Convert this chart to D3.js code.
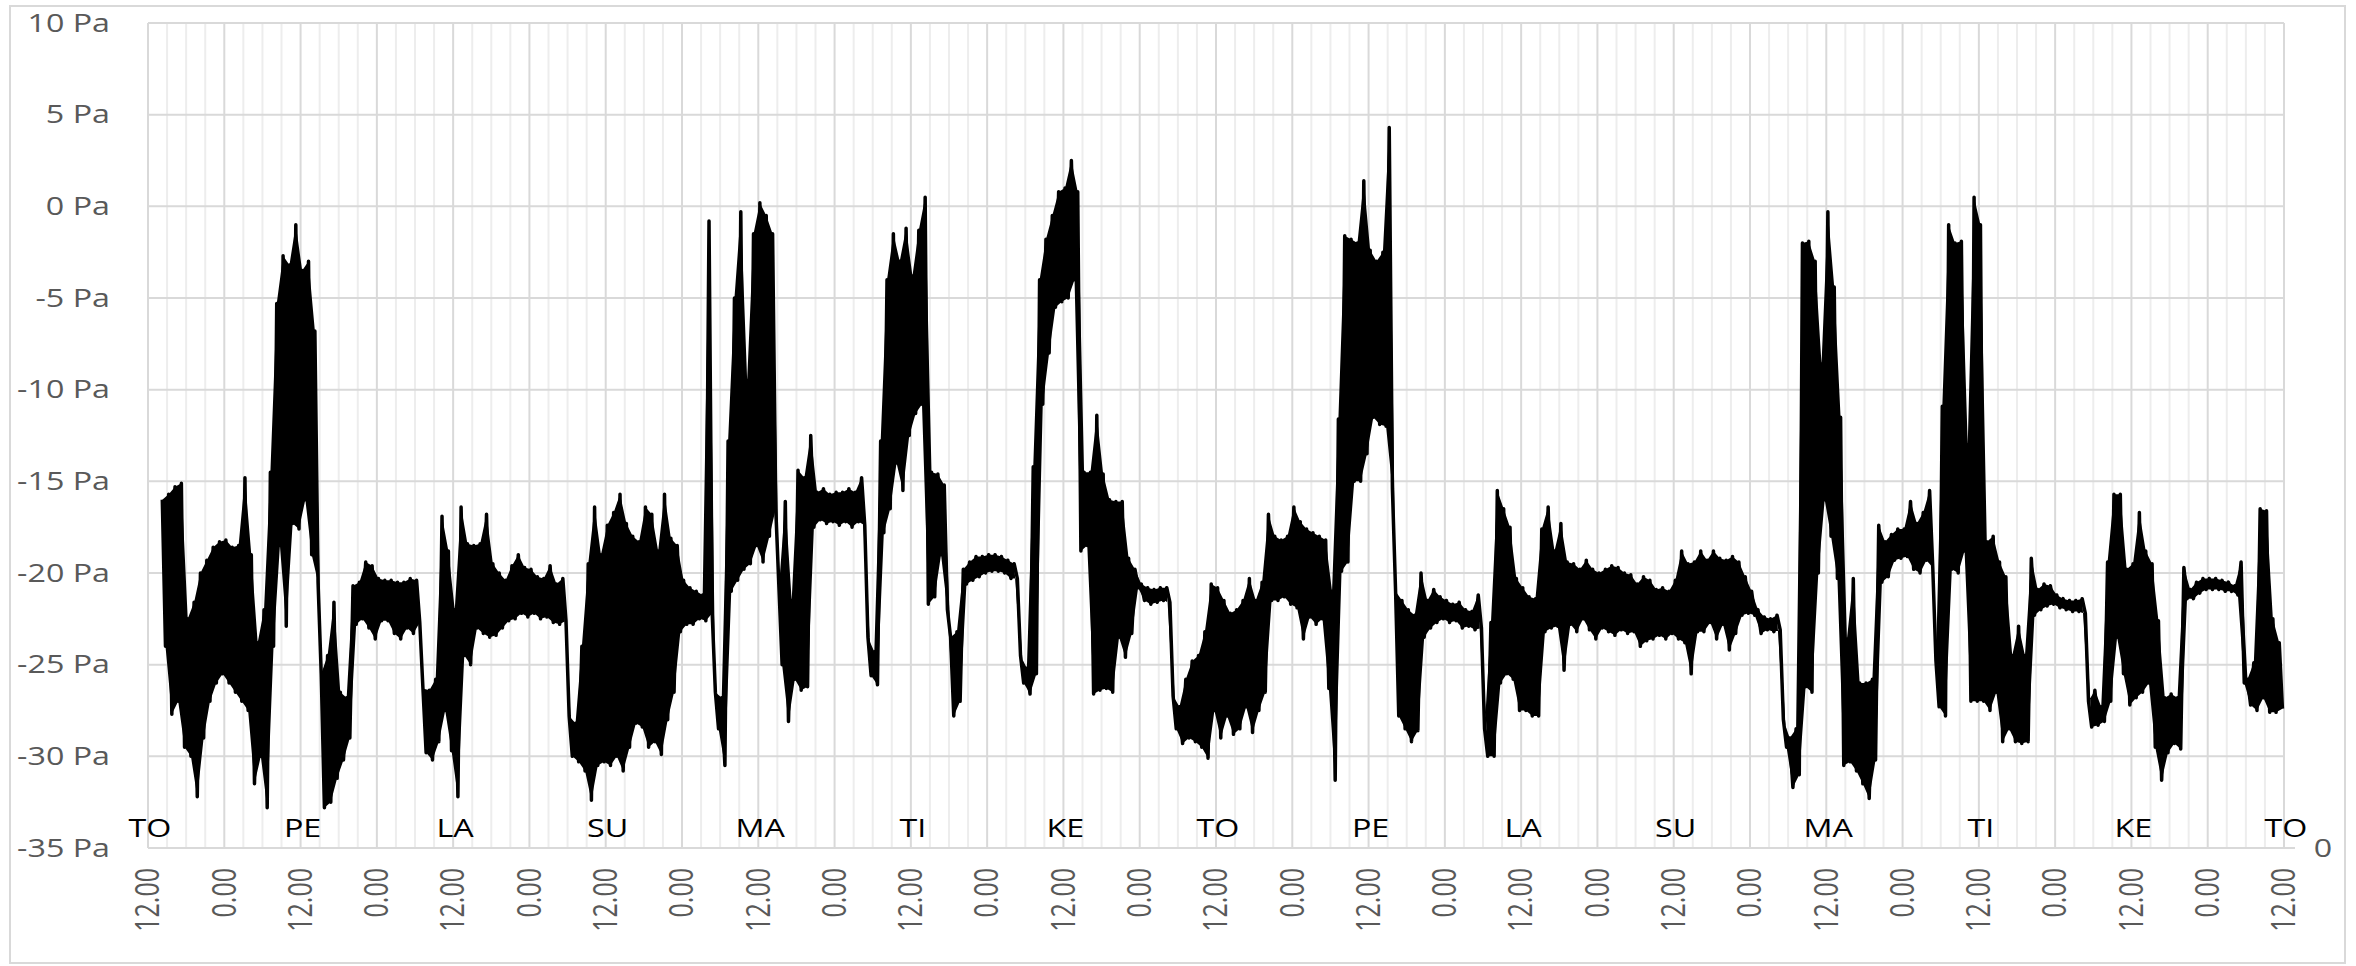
<!DOCTYPE html>
<html>
<head>
<meta charset="utf-8">
<script src="https://cdn.jsdelivr.net/npm/d3@7"></script>
<style>
  html, body { margin: 0; padding: 0; background: #fff; }
  svg { display: block; }
  text { font-family: "Open Sans", "Noto Sans", sans-serif; }
</style>
</head>
<body>
<svg id="chart" width="2356" height="966"></svg>
<script>
// Pressure difference, hourly envelope (highest / lowest reading within each hour).
// Hour 0 = Thursday 12.00, two weeks of data.
const hourHigh = [
  null, null, -16, -15.7, -15.3, -15.1, -22.5, -21.6, -20, -19.3, -18.6, -18.3,
  -18.2, -18.6, -18.5, -14.8, -19, -23.8, -22, -14.5, -5.3, -2.7, -3.2, -1,
  -3.5, -3, -6.8, -25.5, -24.5, -21.6, -26.5, -26.8, -20.7, -20.5, -19.4, -19.6,
  -20.3, -20.4, -20.4, -20.5, -20.5, -20.3, -20.4, -26.3, -26.4, -25.8, -16.9, -18.8,
  -22, -16.4, -18.4, -18.5, -18.4, -16.8, -19.5, -20, -20.4, -19.6, -19, -19.7,
  -19.8, -20.2, -20.3, -19.6, -20.6, -20.3, -27.8, -28.2, -24, -19.5, -16.4, -19,
  -17.4, -16.7, -15.7, -17.3, -18, -18.3, -16.4, -16.8, -18.8, -15.7, -18.1, -18.5,
  -20.4, -20.8, -21, -21.2, -0.8, -26.5, -26.8, -12.8, -5, -0.3, -9.5, -1.5,
  0.2, -0.5, -1.5, -20.8, -16.1, -21.5, -14.4, -14.8, -12.5, -15.6, -15.4, -15.7,
  -15.6, -15.6, -15.4, -15.6, -14.8, -23.5, -24.3, -12.8, -4, -1.5, -3, -1.2,
  -3.8, -1.3, 0.5, -14.5, -14.6, -15.2, -23.5, -23.2, -19.8, -19.4, -19.1, -19.1,
  -19, -19, -19.1, -19.3, -19.5, -24.5, -25.2, -14.2, -4, -1.8, -0.5, 0.8,
  1, 2.5, 0.8, -14.5, -14.5, -11.4, -14.6, -16, -16.1, -16.1, -19.2, -19.8,
  -20.6, -20.8, -20.9, -20.8, -20.8, -26.7, -27.3, -25.8, -24.8, -24.5, -23.2, -20.6,
  -20.8, -21.5, -22.2, -22, -21.5, -20.3, -21.5, -20.5, -16.8, -18, -18.2, -18,
  -16.4, -17.2, -17.6, -17.8, -18, -18.2, -21, -11.6, -1.6, -1.8, -2, 1.4,
  -2.4, -3, -2.5, 4.3, -21, -21.5, -22, -22.3, -20, -21.5, -20.9, -21.3,
  -21.5, -21.7, -21.6, -22, -22.1, -21.2, -28.5, -22.7, -15.5, -16.5, -17.5, -20.3,
  -20.8, -21.3, -21.4, -17.6, -16.4, -18.8, -17.3, -19.4, -19.5, -19.8, -19.3, -19.8,
  -20, -19.8, -19.6, -19.7, -20, -20.1, -20.6, -20.2, -20.4, -20.9, -20.8, -21,
  -20.4, -18.8, -19.5, -19.4, -18.8, -19.3, -18.8, -19.2, -19.3, -19.1, -19.4, -20.2,
  -21, -22, -22.4, -22.5, -22.3, -28, -29, -28.5, -2, -1.9, -3, -8.6,
  -0.3, -4.4, -11.5, -23.6, -20.3, -26, -26, -25.8, -17.4, -18.3, -17.9, -17.6,
  -17.6, -16.1, -17.3, -16.7, -15.5, -24.8, -10.9, -1, -2, -1.9, -13, 0.5,
  -1, -18.3, -18, -19.4, -20.2, -24.5, -22.9, -24.5, -19.2, -20.9, -20.6, -20.7,
  -21.2, -21.4, -21.5, -21.5, -21.4, -27, -26.4, -27.3, -19.4, -15.7, -15.7, -19.8,
  -19.5, -16.7, -18.8, -19.5, -22.6, -26.8, -26.6, -26.8, -19.7, -20.9, -20.5, -20.3,
  -20.3, -20.3, -20.4, -20.5, -20.7, -19.4, -25.8, -24.9, -16.5, -16.6, -22.5, -23.8
];
const hourLow = [
  null, null, -24, -27.7, -27, -29.5, -30, -32.2, -29, -27, -26, -25.5,
  -26, -26.5, -27, -27.5, -31.5, -30, -32.8, -24, -18.5, -22.9, -17.3, -17.6,
  -16, -19, -20.5, -32.8, -32.5, -31.2, -30.2, -29, -22.8, -22.5, -23, -23.6,
  -22.6, -22.6, -23.3, -23.6, -23, -23.3, -22.7, -29.8, -30.2, -29.2, -27.5, -29.7,
  -32.2, -24.5, -25, -23, -23.3, -23.5, -23.4, -23, -22.6, -22.5, -22.2, -22.4,
  -22.2, -22.5, -22.4, -22.7, -22.8, -22.6, -30, -30.3, -30.8, -32.4, -30.5, -30.3,
  -30.5, -30, -30.8, -29.5, -28.2, -28.4, -29.5, -29.2, -29.9, -28, -26.5, -23.2,
  -22.8, -22.8, -22.5, -22.6, -22.2, -28.5, -30.5, -21, -20.4, -19.8, -19.5, -18.5,
  -19.4, -18, -16.5, -25, -28.1, -25.8, -26.4, -26.2, -17.5, -17.1, -17.3, -17.2,
  -17.4, -17.2, -17.5, -17.2, -17.4, -25.6, -26.1, -17.8, -16.5, -14, -15.5, -12.5,
  -11.3, -10.8, -21.7, -21.3, -19, -22, -27.8, -27, -20.6, -20.4, -20.2, -20,
  -19.9, -19.9, -20, -20.3, -20.3, -26, -26.6, -25.5, -10.8, -8, -5.5, -5.2,
  -5, -4, -18.8, -18.5, -26.6, -26.4, -26.3, -26.5, -23.5, -24.6, -23.3, -20.8,
  -21.5, -21.7, -21.6, -21.5, -21.6, -28.5, -29.3, -29, -29.2, -29.5, -30.1, -27.5,
  -29, -27.8, -28.8, -28.5, -27.3, -28.7, -27.5, -26.5, -21.5, -21.5, -21.3, -21.7,
  -21.9, -23.6, -22.4, -22.8, -22.5, -26.3, -31.3, -19.9, -19.4, -15, -15, -13.5,
  -11.5, -11.9, -12, -15.4, -27.8, -28.5, -29.2, -28.6, -23.5, -23, -22.7, -22.5,
  -22.7, -22.6, -23, -22.9, -23.1, -23, -30, -30, -26, -25.5, -25.8, -27.5,
  -27.5, -27.8, -27.8, -23.2, -23, -22.9, -25.3, -22.8, -23.2, -22.5, -23.1, -23.6,
  -23, -23.2, -23.4, -23.1, -23.3, -23.2, -24, -23.7, -23.6, -23.4, -23.6, -23.3,
  -23.6, -23.8, -25.5, -23.2, -23.2, -22.7, -23.6, -22.8, -24.2, -23.3, -22.3, -22.2,
  -22.3, -23.3, -23.1, -23.2, -23.1, -29.5, -31.7, -31, -26.2, -26.5, -20, -16,
  -18, -20.3, -30.5, -30.3, -30.8, -31.5, -32.3, -30.2, -20.5, -20.2, -19.3, -19.2,
  -19.1, -19.8, -20, -19.3, -19.7, -27.3, -27.8, -19.8, -20, -18.8, -27, -27,
  -27, -27.5, -26.5, -29.2, -28.5, -29.2, -29.3, -29.2, -22.3, -22, -21.8, -21.7,
  -21.9, -22, -22.1, -22.1, -22.2, -28.4, -28.3, -28.1, -27, -23.5, -25.5, -27.2,
  -26.8, -26.5, -26, -29.5, -31.3, -29.8, -29.3, -29.6, -21.4, -21.4, -21.1, -20.9,
  -20.9, -20.9, -21, -21, -21.2, -26, -27.2, -27.5, -26.8, -27.6, -27.6, -27.4
];
const dayLabels = ["TO", "PE", "LA", "SU", "MA", "TI", "KE", "TO", "PE", "LA", "SU", "MA", "TI", "KE", "TO"];
const timeLabels = ["12.00", "0.00"];
const yTicks = [10, 5, 0, -5, -10, -15, -20, -25, -30, -35];
const totalHours = 336;

const svg = d3.select("#chart");
const plot = { left: 148, right: 2284, top: 23, bottom: 848 };
const textStretch = 1.29;

const x = d3.scaleLinear().domain([0, totalHours]).range([plot.left, plot.right]);
const y = d3.scaleLinear().domain([-35, 10]).range([plot.bottom, plot.top]);

// chart frame
svg.append("rect")
  .attr("x", 10).attr("y", 6).attr("width", 2335).attr("height", 957)
  .attr("fill", "#fff").attr("stroke", "#d9d9d9").attr("stroke-width", 2);

// vertical grid: every 3 h light, every 12 h stronger
const grid = svg.append("g");
const hourTicks = d3.range(0, totalHours + 1, 3);
grid.selectAll("line.minor")
  .data(hourTicks.filter(h => h % 12 !== 0))
  .join("line")
  .attr("x1", d => x(d)).attr("x2", d => x(d))
  .attr("y1", plot.top).attr("y2", plot.bottom)
  .attr("stroke", "#ededed").attr("stroke-width", 2);
grid.selectAll("line.major")
  .data(hourTicks.filter(h => h % 12 === 0))
  .join("line")
  .attr("x1", d => x(d)).attr("x2", d => x(d))
  .attr("y1", plot.top).attr("y2", plot.bottom)
  .attr("stroke", "#d9d9d9").attr("stroke-width", 2);
// horizontal grid
grid.selectAll("line.h")
  .data(yTicks)
  .join("line")
  .attr("x1", plot.left).attr("x2", d => d === -35 ? plot.right + 11 : plot.right)
  .attr("y1", d => y(d)).attr("y2", d => y(d))
  .attr("stroke", "#d9d9d9").attr("stroke-width", 2);

// y-axis labels
svg.append("g").selectAll("text")
  .data(yTicks)
  .join("text")
  .attr("transform", d => `translate(110,${y(d)}) scale(${textStretch},1)`)
  .attr("text-anchor", "end")
  .attr("dy", "0.35em")
  .attr("font-size", 25)
  .attr("fill", "#595959")
  .text(d => `${d} Pa`);

// time-of-day labels
const halfDays = d3.range(0, totalHours + 1, 12);
svg.append("g").selectAll("text")
  .data(halfDays)
  .join("text")
  .attr("transform", d => `translate(${x(d)},868) scale(${textStretch},1) rotate(-90)`)
  .attr("text-anchor", "end")
  .attr("dy", "0.35em")
  .attr("font-size", 25)
  .attr("fill", "#595959")
  .text((d, i) => timeLabels[i % 2]);

// weekday labels at each noon
svg.append("g").selectAll("text")
  .data(dayLabels)
  .join("text")
  .attr("transform", (d, i) => `translate(${x(i * 24) + 2},837) scale(${textStretch},1)`)
  .attr("text-anchor", "middle")
  .attr("font-size", 25)
  .attr("fill", "#000")
  .text(d => d);

// secondary axis zero
svg.append("text")
  .attr("transform", `translate(2323,${plot.bottom}) scale(${textStretch},1)`)
  .attr("text-anchor", "middle")
  .attr("dy", "0.35em")
  .attr("font-size", 25)
  .attr("fill", "#595959")
  .text("0");

// series: high and low of each hour traced in turn
const points = [];
hourHigh.forEach((hi, i) => {
  if (hi === null) return;
  points.push({ t: i + 0.25, v: hi });
  points.push({ t: i + 0.75, v: hourLow[i] });
});

// the dense hourly band: highs forward, lows back
const highEdge = points.filter((d, k) => k % 2 === 0);
const lowEdge = points.filter((d, k) => k % 2 === 1).reverse();

const line = d3.line()
  .x(d => x(d.t))
  .y(d => y(d.v));

svg.append("path")
  .attr("d", line(highEdge.concat(lowEdge)) + "Z")
  .attr("fill", "#000");

svg.append("path")
  .datum(points)
  .attr("d", line)
  .attr("fill", "none")
  .attr("stroke", "#000")
  .attr("stroke-width", 3.5)
  .attr("stroke-linejoin", "round");
</script>
</body>
</html>
